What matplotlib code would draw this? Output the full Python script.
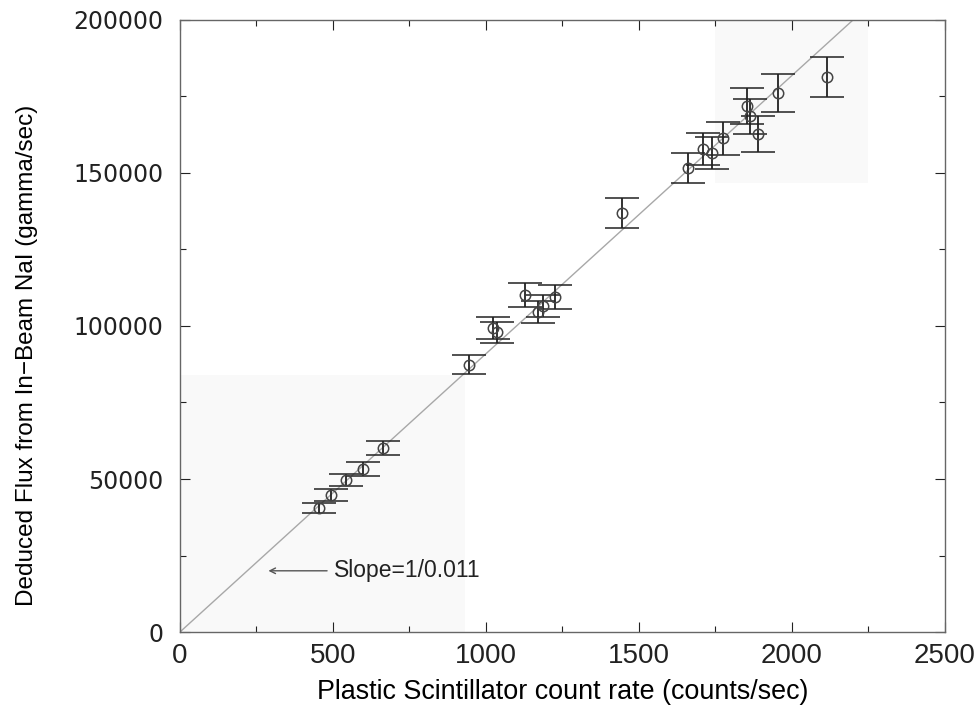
import numpy as np
import matplotlib.pyplot as plt
from matplotlib.patches import Rectangle

# data
rate = [454, 493, 542, 598, 663, 944, 1023, 1036, 1127, 1170, 1186, 1225,
        1444, 1660, 1709, 1739, 1775, 1853, 1863, 1889, 1954, 2114]
flux = [40500, 44800, 49700, 53300, 60100, 87300, 99400, 98000, 110100, 104600,
        106500, 109500, 136900, 151600, 157800, 156500, 161400, 171900, 168600,
        162700, 176100, 181400]
flux_err = [1700, 2000, 2000, 2200, 2300, 3100, 3500, 3400, 3800, 3600, 3700,
            3800, 4900, 5000, 5300, 5200, 5400, 5800, 5700, 6000, 6200, 6500]
slope = 1 / 0.011

fnt = ['Liberation Sans', 'DejaVu Sans']

fig = plt.figure(figsize=(9.77, 7.09), dpi=100)
ax = fig.add_axes([0.1842, 0.1086, 0.7828, 0.8632])

# faint scan shading
ax.add_patch(Rectangle((0, 0), 0.3725, 0.42, transform=ax.transAxes,
                       color='#f9f9f9', zorder=0, lw=0))
ax.add_patch(Rectangle((0.70, 0.734), 0.20, 0.266, transform=ax.transAxes,
                       color='#f9f9f9', zorder=0, lw=0))

xl = np.array([0, 2500])
ax.plot(xl, slope * xl, color='#a8a8a8', lw=1.0, zorder=1)

ax.errorbar(rate, flux, yerr=flux_err, fmt='o', ms=7.5, mfc='none', mec='#444444',
            mew=1.1, ecolor='#222222', elinewidth=1.3, capsize=12, capthick=1.3,
            zorder=3)

ax.annotate('', xy=(280, 20000), xytext=(490, 20000),
            arrowprops=dict(arrowstyle='->', color='#555555', lw=1.0))
ax.text(505, 20000, 'Slope=1/0.011', fontsize=16.5, va='center', ha='left',
        family=fnt, color='#222222')

ax.set_xlim(0, 2500)
ax.set_ylim(0, 200000)
ax.set_xticks([0, 500, 1000, 1500, 2000, 2500])
ax.set_xticks(np.arange(0, 2501, 250), minor=True)
ax.set_yticks([0, 50000, 100000, 150000, 200000])
ax.set_yticks(np.arange(0, 200001, 25000), minor=True)
ax.tick_params(direction='in', which='both', top=True, right=True, length=7,
               width=0.8, colors='#222222')
ax.tick_params(which='minor', length=4)
ax.tick_params(axis='x', pad=8)
ax.tick_params(axis='y', pad=12)
for lab in ax.get_xticklabels():
    lab.set_family(fnt)
    lab.set_fontsize(20)
for lab in ax.get_yticklabels():
    lab.set_family('DejaVu Sans')
    lab.set_fontsize(17)

for s in ax.spines.values():
    s.set_color('#666666')
    s.set_linewidth(1.0)

ax.set_xlabel('Plastic Scintillator count rate (counts/sec)', fontsize=19.4,
              family=fnt, labelpad=7)
ax.set_ylabel('Deduced Flux from In\u2212Beam NaI (gamma/sec)', fontsize=17.5,
              family=fnt)
ax.yaxis.set_label_coords(-0.185, 0.4526)

fig.savefig('out.png', dpi=100)
